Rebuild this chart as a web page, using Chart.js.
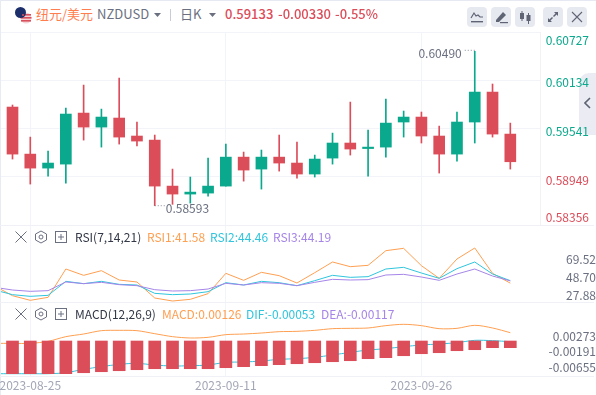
<!DOCTYPE html>
<html>
<head>
<meta charset="utf-8">
<script src="https://cdn.jsdelivr.net/npm/chart.js@4"></script>
<style>
  html, body { margin: 0; padding: 0; background: #fff; overflow: hidden; }
  #page { position: relative; width: 596px; height: 395px; overflow: hidden; font-family: "Noto Sans CJK SC", sans-serif; font-size: 13px; }
  canvas { position: absolute; left: 0; }
  .t { position: absolute; white-space: nowrap; line-height: 16px; }
  .l { font-size: 12px; }
  .sep { position: absolute; left: 0; width: 594px; height: 1px; background: #eff1f6; }
  .btn { position: absolute; top: 7px; width: 20px; height: 20px; border-radius: 4px; background: #e7e9f0; }
  svg { position: absolute; }
  #tab { position: absolute; left: 579px; top: 73px; width: 17px; height: 62px; background: #ebecf3; border-radius: 10px 0 0 10px; }
</style>
</head>
<body>
<div id="page">
  <div style="position:absolute;left:0;top:0;width:596px;height:1px;background:#e6e9f2"></div>
  <div style="position:absolute;left:0;top:0;width:1px;height:395px;background:#e9ebf4"></div>

  <div id="tab"><svg style="left:5px;top:24px" width="7" height="12"><path d="M6 1L1 6L6 11" fill="none" stroke="#5f6475" stroke-width="1.6"/></svg></div>

  <canvas id="priceChart" width="596" height="206" style="top:26px"></canvas>
  <canvas id="rsiChart" width="596" height="76" style="top:226px"></canvas>
  <canvas id="macdChart" width="596" height="93" style="top:302px"></canvas>

  <div class="sep" style="top:225px"></div>
  <div class="sep" style="top:302px"></div>
  <div class="sep" style="top:376px"></div>

  <!-- header -->
  <svg style="left:14px;top:6px" width="19" height="18" viewBox="0 0 19 18">
    <circle cx="12" cy="12" r="5.5" fill="#f3d5d8"/>
    <rect x="7" y="8" width="10" height="1.6" fill="#d9505c"/>
    <rect x="6.5" y="11" width="11" height="1.6" fill="#d9505c"/>
    <rect x="7" y="14" width="10" height="1.6" fill="#d9505c"/>
    <circle cx="6.5" cy="6.5" r="5.5" fill="#1d2f6b"/>
    <circle cx="9" cy="9" r="1" fill="#d9505c"/>
  </svg>
  <span class="t" style="left:36px;top:6px;color:#ff7d4f">纽元/美元</span>
  <span class="t" style="left:97px;top:6px;color:#6b7080">NZDUSD</span>
  <svg style="left:154px;top:13px" width="7" height="4"><path d="M0 0H7L3.5 4Z" fill="#6b7080"/></svg>
  <div style="position:absolute;left:170px;top:9px;width:1px;height:12px;background:#c9ccd6"></div>
  <span class="t" style="left:180px;top:6px;color:#6b7080">日K</span>
  <svg style="left:209px;top:13px" width="7" height="4"><path d="M0 0H7L3.5 4Z" fill="#6b7080"/></svg>
  <span class="t" style="left:225px;top:6px;color:#dc4d5a;font-weight:500">0.59133</span>
  <span class="t" style="left:278px;top:6px;color:#dc4d5a;font-weight:500">-0.00330</span>
  <span class="t" style="left:335px;top:6px;color:#dc4d5a;font-weight:500">-0.55%</span>

  <div class="btn" style="left:467px"><svg style="left:3px;top:3px" width="14" height="14" viewBox="0 0 14 14"><path d="M1 8L4 3L6 6L8 5L10 7L13 7" fill="none" stroke="#5f6475" stroke-width="1.2"/><rect x="1" y="11" width="12" height="1.4" fill="#5f6475"/></svg></div>
  <div class="btn" style="left:491px"><svg style="left:3px;top:3px" width="14" height="14" viewBox="0 0 14 14"><path d="M2 10L9 2L12 5L5 12L2 12Z" fill="#5f6475"/><rect x="6" y="12" width="8" height="1.2" fill="#5f6475"/></svg></div>
  <div class="btn" style="left:515px"><svg style="left:3px;top:3px" width="14" height="14" viewBox="0 0 14 14"><rect x="2" y="3" width="4" height="6" fill="#5f6475"/><rect x="3.5" y="1" width="1" height="10" fill="#5f6475"/><rect x="8.5" y="5" width="4" height="6" fill="#5f6475"/><rect x="10" y="3" width="1" height="11" fill="#5f6475"/></svg></div>
  <div class="btn" style="left:543px"><svg style="left:3px;top:3px" width="14" height="14" viewBox="0 0 14 14"><path d="M8 2H12V6L10.6 4.6L8 7L7 6L9.5 3.4ZM6 12H2V8L3.4 9.4L6 7L7 8L4.5 10.6Z" fill="#5f6475"/></svg></div>
  <div class="btn" style="left:567px"><svg style="left:3px;top:3px" width="14" height="14" viewBox="0 0 14 14"><path d="M2 2L12 12M12 2L2 12" stroke="#5f6475" stroke-width="1.1"/></svg></div>

  <!-- RSI legend -->
  <svg style="left:14px;top:230px" width="14" height="14" viewBox="0 0 14 14"><path d="M1.5 1.5L12.5 12.5M12.5 1.5L1.5 12.5" stroke="#6b7080" stroke-width="1"/></svg>
  <svg style="left:34px;top:230px" width="14" height="14" viewBox="0 0 14 14"><path d="M7 1L12.5 4V10L7 13L1.5 10V4Z" fill="none" stroke="#6b7080"/><circle cx="7" cy="7" r="2" fill="none" stroke="#6b7080"/></svg>
  <svg style="left:54px;top:230px" width="14" height="14" viewBox="0 0 14 14"><rect x="1.5" y="1.5" width="11" height="11" fill="none" stroke="#6b7080"/><path d="M4 7H10M7 4V10" stroke="#6b7080"/></svg>
  <span class="t l" style="left:75px;top:229px;color:#333846">RSI(7,14,21)</span>
  <span class="t l" style="left:147px;top:229px;color:#ff9f51">RSI1:41.58</span>
  <span class="t l" style="left:210px;top:229px;color:#2fc5dd">RSI2:44.46</span>
  <span class="t l" style="left:273px;top:229px;color:#a585e8">RSI3:44.19</span>

  <!-- MACD legend -->
  <svg style="left:14px;top:307px" width="14" height="14" viewBox="0 0 14 14"><path d="M1.5 1.5L12.5 12.5M12.5 1.5L1.5 12.5" stroke="#6b7080" stroke-width="1"/></svg>
  <svg style="left:34px;top:307px" width="14" height="14" viewBox="0 0 14 14"><path d="M7 1L12.5 4V10L7 13L1.5 10V4Z" fill="none" stroke="#6b7080"/><circle cx="7" cy="7" r="2" fill="none" stroke="#6b7080"/></svg>
  <svg style="left:54px;top:307px" width="14" height="14" viewBox="0 0 14 14"><rect x="1.5" y="1.5" width="11" height="11" fill="none" stroke="#6b7080"/><path d="M4 7H10M7 4V10" stroke="#6b7080"/></svg>
  <span class="t l" style="left:75px;top:306px;color:#333846">MACD(12,26,9)</span>
  <span class="t l" style="left:162px;top:306px;color:#ff9f51">MACD:0.00126</span>
  <span class="t l" style="left:246px;top:306px;color:#2fc5dd">DIF:-0.00053</span>
  <span class="t l" style="left:321px;top:306px;color:#a585e8">DEA:-0.00117</span>
</div>

<script>
// daily candles, first visible bar is index 0
const opens = [0.59805, 0.59227, 0.59055, 0.59104, 0.59731, 0.59559, 0.59670, 0.59449, 0.59399, 0.58834, 0.58736, 0.58748, 0.58834, 0.59190, 0.59043, 0.59190, 0.59117, 0.58982, 0.59178, 0.59363, 0.59295, 0.59313, 0.59621, 0.59682, 0.59449, 0.59227, 0.59621, 0.59989, 0.59473];
const closes = [0.59227, 0.59055, 0.59117, 0.59719, 0.59559, 0.59682, 0.59436, 0.59387, 0.58834, 0.58736, 0.58760, 0.58834, 0.59190, 0.59031, 0.59190, 0.59117, 0.58982, 0.59166, 0.59363, 0.59289, 0.59313, 0.59608, 0.59682, 0.59449, 0.59227, 0.59621, 0.59989, 0.59473, 0.59133];
const highs = [0.59830, 0.59436, 0.59264, 0.59793, 0.60075, 0.59780, 0.60161, 0.59621, 0.59461, 0.59043, 0.58945, 0.59178, 0.59350, 0.59252, 0.59277, 0.59461, 0.59375, 0.59215, 0.59485, 0.59866, 0.59522, 0.59903, 0.59756, 0.59744, 0.59571, 0.59744, 0.60490, 0.60088, 0.59608];
const lows = [0.59166, 0.58859, 0.58957, 0.58871, 0.59399, 0.59313, 0.59350, 0.59326, 0.58593, 0.58610, 0.58625, 0.58711, 0.58834, 0.58895, 0.58797, 0.59018, 0.58932, 0.58945, 0.59104, 0.59215, 0.58957, 0.59190, 0.59436, 0.59363, 0.58994, 0.59141, 0.59363, 0.59436, 0.59043];

// indicator lines start one bar before the visible window (index -1)
const rsi1 = [38.28, 27.09, 21.69, 25.16, 57.95, 50.62, 56.02, 45.22, 42.91, 24.39, 20.92, 22.85, 29.41, 52.93, 44.83, 54.09, 50.23, 41.75, 53.70, 66.05, 60.65, 62.19, 79.16, 81.86, 61.80, 47.15, 69.52, 82.25, 52.93, 41.58];
const rsi2 = [33.65, 28.25, 26.32, 27.48, 43.68, 40.98, 43.68, 40.21, 39.43, 29.79, 28.25, 29.02, 31.72, 42.13, 39.43, 43.68, 42.13, 38.66, 44.45, 50.62, 48.30, 49.08, 57.95, 59.88, 53.32, 47.15, 58.33, 66.05, 52.16, 44.46];
const rsi3 = [36.73, 33.65, 32.11, 32.88, 42.91, 40.98, 42.52, 39.82, 38.66, 34.03, 32.49, 32.88, 34.81, 41.36, 39.43, 42.13, 41.36, 38.66, 42.52, 45.99, 45.22, 45.61, 51.00, 51.78, 48.69, 44.83, 52.16, 57.95, 49.85, 44.19];
const macdLine = [0.00053, 0.00053, 0.00053, 0.00113, 0.00253, 0.00332, 0.00432, 0.00442, 0.00432, 0.00342, 0.00253, 0.00213, 0.00233, 0.00313, 0.00332, 0.00362, 0.00402, 0.00412, 0.00442, 0.00492, 0.00502, 0.00512, 0.00582, 0.00622, 0.00582, 0.00492, 0.00502, 0.00592, 0.00512, 0.00372];
const difLine = [-0.00854, -0.00854, -0.00854, -0.00854, -0.00824, -0.00724, -0.00644, -0.00575, -0.00545, -0.00595, -0.00625, -0.00615, -0.00595, -0.00515, -0.00505, -0.00475, -0.00425, -0.00405, -0.00365, -0.00295, -0.00216, -0.00146, -0.00106, -0.00046, 0.00004, 0.00034, 0.00074, 0.00143, 0.00133, 0.00103];
const histBars = [-0.00854, -0.00854, -0.00854, -0.00854, -0.00825, -0.00795, -0.00765, -0.00735, -0.00705, -0.00705, -0.00705, -0.00705, -0.00675, -0.00645, -0.00615, -0.00585, -0.00556, -0.00526, -0.00496, -0.00466, -0.00406, -0.00376, -0.00317, -0.00257, -0.00227, -0.00167, -0.00137, -0.00077, -0.00077];
const histBase = 0.00123;

// axis ticks
const priceTicks = [0.60727, 0.60134, 0.59541, 0.58949, 0.58356];
const rsiTicks = [69.52, 48.70, 27.88];
const macdTicks = [0.00273, -0.00191, -0.00655];
const dateTickBars = [1, 12, 23];
const dateTickLabels = ['2023-08-25', '2023-09-11', '2023-09-26'];

const UP = '#0aa88c';
const DOWN = '#dc4d5a';
const ORANGE = '#ff9f51';
const CYAN = '#2fc5dd';
const PURPLE = '#a585e8';
const GRID = '#f3f4f9';
const LABEL = '#6b7080';
const FONT = '"Noto Sans CJK SC", sans-serif';

Chart.defaults.font.family = FONT;
Chart.defaults.font.size = 12;
Chart.defaults.animation = false;
Chart.defaults.responsive = false;
Chart.defaults.plugins.legend.display = false;
Chart.defaults.plugins.tooltip.enabled = false;

const candleColors = opens.map((o, i) => (closes[i] >= o ? UP : DOWN));
const toPoints = (arr, first) => arr.map((y, i) => ({ x: i + first, y }));
const ticksOf = vals => scale => { scale.ticks = vals.map(value => ({ value })); };

// the label paddings chart.js adds would shrink these short panes
const fitY = scale => {
  scale.width = 56;
  scale.paddingTop = 0;
  scale.paddingBottom = 0;
};
const fitX = h => scale => {
  if (h) scale.height = h;
  scale.paddingLeft = 0;
  scale.paddingRight = 0;
};

function xAxis(showLabels) {
  return {
    type: 'linear',
    offset: false,
    min: -0.6475,
    max: 29.67,
    afterBuildTicks: ticksOf(dateTickBars),
    afterFit: fitX(showLabels ? 19 : 0),
    grid: { color: GRID, drawTicks: false, lineWidth: 1, offset: false },
    border: { display: false },
    ticks: {
      display: showLabels,
      autoSkip: false,
      maxRotation: 0,
      padding: 2,
      color: '#a3a7b5',
      callback: v => dateTickLabels[dateTickBars.indexOf(v)]
    }
  };
}

function line(data, color, tension) {
  return {
    type: 'line',
    data: toPoints(data, -1),
    borderColor: color,
    borderWidth: 1,
    pointRadius: 0,
    tension: tension || 0,
    order: 5
  };
}

// price labels sit a bit off their grid lines, first and last ones inside the pane
const priceLabelShift = [8, 2.5, 2.5, 4, -8];
const priceLabels = {
  id: 'priceLabels',
  afterDraw(chart) {
    const { ctx, scales: { y } } = chart;
    ctx.save();
    ctx.font = '12px ' + FONT;
    ctx.textAlign = 'right';
    ctx.textBaseline = 'middle';
    priceTicks.forEach((v, i) => {
      ctx.fillStyle = v > 0.59463 ? UP : DOWN;
      ctx.fillText(v.toFixed(5), 589, y.getPixelForValue(v) + priceLabelShift[i]);
    });
    ctx.restore();
  }
};

// high / low callouts with the little dotted leader
const extremes = {
  id: 'extremes',
  afterDatasetsDraw(chart) {
    const { ctx, scales: { x, y } } = chart;
    const hi = highs.indexOf(Math.max(...highs));
    const lo = lows.indexOf(Math.min(...lows));
    ctx.save();
    ctx.font = '12px ' + FONT;
    ctx.fillStyle = LABEL;
    ctx.strokeStyle = '#8a8e9c';
    ctx.lineWidth = 1;
    ctx.setLineDash([1, 2]);
    ctx.textBaseline = 'middle';

    const hx = x.getPixelForValue(hi), hy = y.getPixelForValue(highs[hi]);
    ctx.beginPath(); ctx.moveTo(hx - 10, hy - 1); ctx.lineTo(hx, hy - 1); ctx.stroke();
    ctx.textAlign = 'right';
    ctx.fillText(highs[hi].toFixed(5), hx - 13, hy + 2);

    const lx = x.getPixelForValue(lo), ly = y.getPixelForValue(lows[lo]);
    ctx.beginPath(); ctx.moveTo(lx, ly); ctx.lineTo(lx + 10, ly); ctx.stroke();
    ctx.textAlign = 'left';
    ctx.fillText(lows[lo].toFixed(5), lx + 11, ly + 3);
    ctx.restore();
  }
};

// Candles: floating bars, wick underneath and body on top
new Chart(document.getElementById('priceChart'), {
  type: 'bar',
  data: {
    datasets: [
      {
        data: opens.map((o, i) => ({ x: i, y: [o, closes[i]] })),
        backgroundColor: candleColors,
        barThickness: 11,
        grouped: false,
        order: 1
      },
      {
        data: lows.map((l, i) => ({ x: i, y: [l, highs[i]] })),
        backgroundColor: candleColors,
        barThickness: 1,
        grouped: false,
        order: 2
      }
    ]
  },
  options: {
    layout: { padding: { left: 1, top: 6, bottom: 7 } },
    scales: {
      x: xAxis(false),
      y: {
        position: 'right',
        min: 0.58356,
        max: 0.60727,
        afterBuildTicks: ticksOf(priceTicks),
        afterFit: fitY,
        grid: { color: GRID, drawTicks: false },
        border: { color: '#f0f2f7' },
        ticks: { display: false }
      }
    }
  },
  plugins: [priceLabels, extremes]
});

// RSI pane
new Chart(document.getElementById('rsiChart'), {
  type: 'line',
  data: { datasets: [line(rsi3, PURPLE), line(rsi2, CYAN), line(rsi1, ORANGE)] },
  options: {
    layout: { padding: { left: 1 } },
    scales: {
      x: xAxis(false),
      y: {
        position: 'right',
        min: 19.77,
        max: 107.7,
        afterBuildTicks: ticksOf(rsiTicks),
        afterFit: fitY,
        grid: { display: false },
        border: { display: false },
        ticks: { color: LABEL, padding: 19, crossAlign: 'far', autoSkip: false, callback: v => v.toFixed(2) }
      }
    }
  }
});

// MACD pane, bars hang from a fixed base
new Chart(document.getElementById('macdChart'), {
  type: 'bar',
  data: {
    datasets: [
      {
        data: toPoints(histBars, 0),
        base: histBase,
        backgroundColor: DOWN,
        barThickness: 12,
        order: 1
      },
      line(difLine, CYAN, 0.3),
      line(macdLine, ORANGE, 0.3)
    ]
  },
  options: {
    layout: { padding: { left: 1 } },
    scales: {
      x: xAxis(true),
      y: {
        position: 'right',
        min: -0.00923,
        max: 0.01289,
        afterBuildTicks: ticksOf(macdTicks),
        afterFit: fitY,
        grid: { display: false },
        border: { display: false },
        ticks: { color: LABEL, padding: 2, crossAlign: 'far', autoSkip: false, callback: v => v.toFixed(5) }
      }
    }
  }
});
</script>
</body>
</html>
